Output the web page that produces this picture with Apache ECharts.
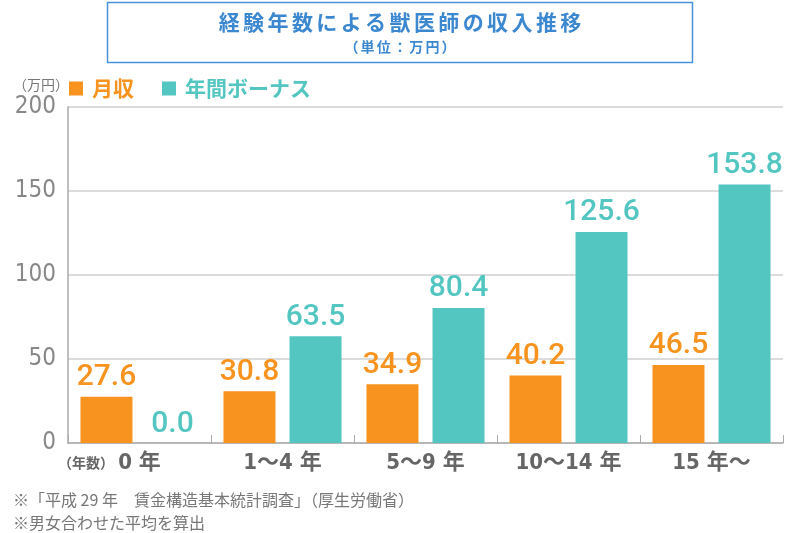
<!DOCTYPE html>
<html><head><meta charset="utf-8">
<script src="https://cdn.jsdelivr.net/npm/echarts@6/dist/echarts.min.js"></script>
<style>html,body{margin:0;padding:0;background:#fff}#c{width:800px;height:533px}</style>
</head><body><div id="c"></div>
<script>
const categories = ['0 年', '1～4 年', '5～9 年', '10～14 年', '15 年～'];
const monthly = [27.6, 30.8, 34.9, 40.2, 46.5];
const bonus = [0.0, 63.5, 80.4, 125.6, 153.8];
const yTicks = [0, 50, 100, 150, 200];
const seriesNames = ['月収', '年間ボーナス'];
const titleText = '経験年数による獣医師の収入推移';
const subTitleText = '（単位：万円）';
const notes = ['※「平成 29 年　賃金構造基本統計調査」（厚生労働省）', '※男女合わせた平均を算出'];

const ORANGE = '#F7931E', TEAL = '#53C6C1', BLUE = '#3B87D0';
const CJK = '"Noto Sans CJK JP", "Noto Sans", sans-serif';
const NUM = 'Roboto, "Noto Sans CJK JP", sans-serif';
const NARROW = '"Liberation Sans Narrow", "DejaVu Sans Condensed", Roboto, "Noto Sans CJK JP", sans-serif';

function spaced(text, cx, y, pitch, font, color) {
  const chars = Array.from(text);
  const x0 = cx - pitch * chars.length / 2 + pitch / 2;
  return chars.map((ch, i) => ({
    type: 'text', x: x0 + i * pitch, y: y,
    style: { text: ch, font: font, fill: color, textAlign: 'center', textVerticalAlign: 'middle' }
  }));
}

const chart = echarts.init(document.getElementById('c'));
const graphics = [
  { type: 'rect', shape: { x: 107.5, y: 2.5, width: 585, height: 60 }, style: { fill: '#fff', stroke: '#4A90D9', lineWidth: 1.5 } },
  ...spaced(titleText, 400, 22, 24.4, 'bold 21px ' + CJK, BLUE),
  ...spaced(subTitleText, 400, 47, 16.2, 'bold 14px ' + CJK, BLUE),
  { type: 'text', x: 13, y: 85, style: { text: '（万円）', font: '14px ' + CJK, fill: '#777', textVerticalAlign: 'middle' } },
  { type: 'text', x: 58, y: 463, style: { text: '（年数）', font: 'bold 14px ' + CJK, fill: '#666', textVerticalAlign: 'middle' } },
  { type: 'text', x: 13, y: 500, style: { text: notes[0], font: '16px ' + CJK, fill: '#777', textVerticalAlign: 'middle' } },
  { type: 'text', x: 13, y: 523, style: { text: notes[1], font: '16px ' + CJK, fill: '#777', textVerticalAlign: 'middle' } }
];

chart.setOption({
  animation: false,
  graphic: graphics,
  legend: {
    left: 64, top: 73, itemWidth: 14, itemHeight: 14, itemGap: 28, icon: 'rect',
    data: [
      { name: seriesNames[0], textStyle: { color: ORANGE } },
      { name: seriesNames[1], textStyle: { color: TEAL } }
    ],
    textStyle: { fontSize: 21, fontWeight: 'bold', fontFamily: CJK, padding: [0, 0, 0, 4] }
  },
  grid: { left: 68, right: 17, top: 107, bottom: 90, containLabel: false },
  xAxis: {
    type: 'category', data: categories,
    axisLine: { lineStyle: { color: '#aaa', width: 1.5 } },
    axisTick: { show: true, inside: true, length: 8, lineStyle: { color: '#aaa' } },
    axisLabel: { interval: 0, hideOverlap: false, color: '#666', fontSize: 22, fontWeight: 'bold', fontFamily: NARROW, margin: 9 }
  },
  yAxis: {
    type: 'value', min: yTicks[0], max: yTicks[yTicks.length - 1], interval: 50,
    axisLine: { show: true, lineStyle: { color: '#aaa', width: 1.5 } },
    axisTick: { show: false },
    splitLine: { lineStyle: { color: '#d0d0d0', width: 1.5 } },
    axisLabel: { color: '#888', fontSize: 24, fontWeight: 300, fontFamily: NARROW, margin: 12 }
  },
  series: [
    {
      name: seriesNames[0], type: 'bar', data: monthly, barWidth: 52, barGap: '27%',
      itemStyle: { color: ORANGE },
      label: { show: true, position: 'top', distance: 4, color: ORANGE, fontSize: 30, fontWeight: 500, fontFamily: NUM, formatter: p => p.value.toFixed(1) }
    },
    {
      name: seriesNames[1], type: 'bar', data: bonus, barWidth: 52,
      itemStyle: { color: TEAL },
      label: { show: true, position: 'top', distance: 4, color: TEAL, fontSize: 30, fontWeight: 500, fontFamily: NUM, formatter: p => p.value.toFixed(1) }
    }
  ]
});
</script></body></html>
